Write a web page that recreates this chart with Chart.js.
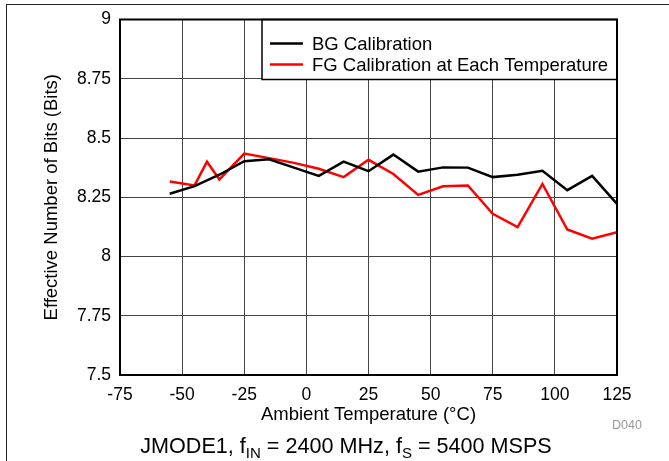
<!DOCTYPE html>
<html>
<head>
<meta charset="utf-8">
<script src="https://cdn.jsdelivr.net/npm/chart.js@4/dist/chart.umd.min.js"></script>
<style>
  body { margin:0; background:#fff; }
  #wrap { position:relative; width:669px; height:461px; overflow:hidden; font-family:"Liberation Sans", Arial, sans-serif; }
  #frame { position:absolute; left:6px; top:4px; width:700px; height:500px; border-left:1px solid #222; border-top:1px solid #222; }
  #cap { position:absolute; left:346px; top:433px; transform:translateX(-50%); white-space:nowrap; font-size:21.6px; color:#000; }
  #cap sub { font-size:15px; vertical-align:-5px; line-height:0; }
  #code { position:absolute; left:612px; top:418px; font-size:12.5px; color:#9a9a9a; }
</style>
</head>
<body>
<div id="wrap">
  <div id="frame"></div>
  <canvas id="c" width="669" height="461"></canvas>
  <div id="cap">JMODE1, f<sub>IN</sub> = 2400 MHz, f<sub>S</sub> = 5400 MSPS</div>
  <div id="code">D040</div>
</div>
<script>
const bgTemps = [-55, -45, -35, -25, -15, -5, 5, 15, 25, 35, 45, 55, 65, 75, 85, 95, 105, 115, 125];
const bgEnob  = [8.265, 8.297, 8.345, 8.402, 8.41, 8.375, 8.34, 8.40, 8.36, 8.43, 8.358, 8.376, 8.375, 8.335, 8.345, 8.362, 8.28, 8.34, 8.222];

const fgTemps = [-55, -45, -40, -35, -25, -15, -5, 5, 15, 25, 35, 45, 55, 65, 75, 85, 95, 105, 115, 125];
const fgEnob  = [8.316, 8.30, 8.40, 8.325, 8.434, 8.415, 8.395, 8.37, 8.335, 8.408, 8.348, 8.26, 8.296, 8.30, 8.18, 8.124, 8.306, 8.114, 8.075, 8.103];

const seriesNames = ['BG Calibration', 'FG Calibration at Each Temperature'];
const seriesColors = ['#000000', '#ff0000'];

const FONT = '"Liberation Sans", Arial, sans-serif';

// plot frame + legend box drawn on top of the grid
const framePlugin = {
  id: 'frame',
  afterDatasetsDraw(chart) {
    const { ctx, chartArea: a } = chart;
    ctx.save();
    // legend box
    const lx = 262, ly = a.top, lw = a.right - lx, lh = 60;
    ctx.fillStyle = '#fff';
    ctx.fillRect(lx, ly, lw, lh);
    ctx.strokeStyle = '#000';
    ctx.lineWidth = 1.5;
    ctx.strokeRect(lx, ly, lw, lh);
    ctx.font = '18.5px ' + FONT;
    ctx.textBaseline = 'middle';
    seriesNames.forEach((name, i) => {
      const y = ly + 24 + i * 21;
      ctx.strokeStyle = seriesColors[i];
      ctx.lineWidth = 2.5;
      ctx.beginPath();
      ctx.moveTo(lx + 8, y);
      ctx.lineTo(lx + 41, y);
      ctx.stroke();
      ctx.fillStyle = '#000';
      ctx.fillText(name, lx + 50, y + 1);
    });
    // thick plot border
    ctx.strokeStyle = '#000';
    ctx.lineWidth = 2;
    ctx.strokeRect(a.left, a.top, a.right - a.left, a.bottom - a.top);
    ctx.restore();
  }
};

new Chart(document.getElementById('c'), {
  type: 'line',
  data: {
    datasets: [
      {
        label: seriesNames[0],
        data: bgTemps.map((t, i) => ({ x: t, y: bgEnob[i] })),
        borderColor: seriesColors[0],
        borderWidth: 2.5,
        pointRadius: 0,
        tension: 0
      },
      {
        label: seriesNames[1],
        data: fgTemps.map((t, i) => ({ x: t, y: fgEnob[i] })),
        borderColor: seriesColors[1],
        borderWidth: 2.5,
        pointRadius: 0,
        tension: 0
      }
    ]
  },
  options: {
    responsive: false,
    animation: false,
    layout: { padding: { top: 18, right: 52, bottom: 0, left: 0 } },
    plugins: { legend: { display: false }, tooltip: { enabled: false } },
    scales: {
      x: {
        type: 'linear',
        min: -75, max: 125,
        afterFit(s) { s.height = 86; },
        ticks: { stepSize: 25, color: '#000', font: { family: FONT, size: 17.5 }, padding: 10, maxRotation: 0 },
        grid: { color: '#444', lineWidth: 1, drawTicks: false },
        border: { display: false },
        title: { display: true, text: 'Ambient Temperature (°C)', color: '#000', font: { family: FONT, size: 18.5, lineHeight: 1.2 }, padding: { top: 0, bottom: 35 } }
      },
      y: {
        min: 7.5, max: 9,
        afterFit(s) { s.width = 120; },
        ticks: { stepSize: 0.25, color: '#000', font: { family: FONT, size: 17.5 }, padding: 9, callback: v => String(+v.toFixed(2)) },
        grid: { color: '#444', lineWidth: 1, drawTicks: false },
        border: { display: false },
        title: { display: true, text: 'Effective Number of Bits (Bits)', color: '#000', font: { family: FONT, size: 18.5, lineHeight: 1.2 }, padding: { top: 41, bottom: 0 } }
      }
    }
  },
  plugins: [framePlugin]
});
</script>
</body>
</html>
